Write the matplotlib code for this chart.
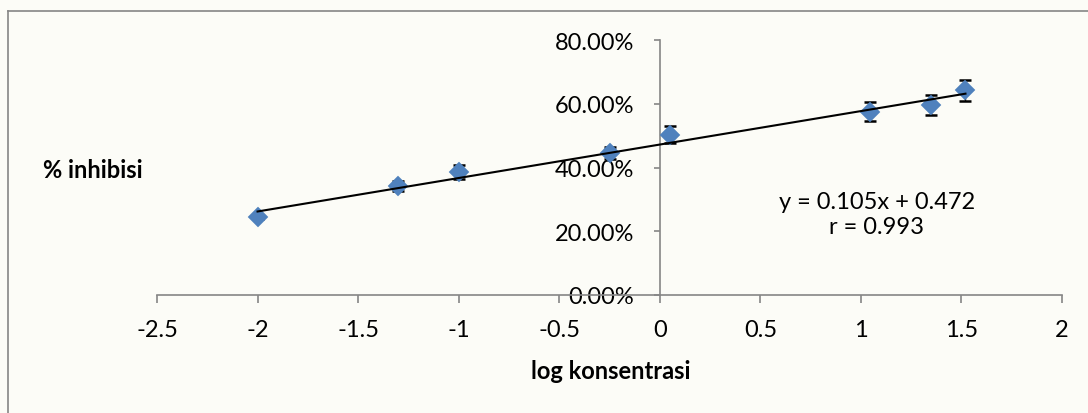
#!/usr/bin/env python
# -*- coding: utf-8 -*-

"""
Percent inhibition versus log concentration with a linear trendline.
"""

# Third party modules.
import matplotlib
matplotlib.use("Agg")
import matplotlib.pyplot as plt
from matplotlib.lines import Line2D
from matplotlib.ticker import FuncFormatter, MultipleLocator

# Globals and constants variables.
logConcentrations = [-2.0, -1.30, -1.0, -0.25, 0.05, 1.045, 1.35, 1.52]
inhibitions = [0.244, 0.342, 0.386, 0.445, 0.503, 0.575, 0.597, 0.643]
inhibitionErrors = [0.005, 0.015, 0.021, 0.019, 0.027, 0.030, 0.031, 0.033]

slope = 0.105
intercept = 0.472
correlation = 0.993

xLabel = "log konsentrasi"
yLabel = "% inhibisi"

markerColor = "#4F81BD"
axisColor = "#868686"

plt.rcParams["font.family"] = ["Lato", "DejaVu Sans"]


def runPlot():
    fig = plt.figure(figsize=(10.88, 4.14), dpi=100)
    fig.patch.set_facecolor("#fcfcf7")

    # chart area frame, only its left and top edges fall inside the image
    frameLeft = 7.5 / 1088
    frameTop = 1 - 12 / 414
    fig.lines.append(Line2D([frameLeft, frameLeft], [-0.1, frameTop],
                            transform=fig.transFigure, color=axisColor, linewidth=1.2))
    fig.lines.append(Line2D([frameLeft, 1.1], [frameTop, frameTop],
                            transform=fig.transFigure, color=axisColor, linewidth=1.2))

    ax = fig.add_axes([157 / 1088, 118 / 414, 905 / 1088, 255 / 414])
    ax.patch.set_alpha(0.0)

    # error bars first, markers over them, trendline over both
    ax.errorbar(logConcentrations, inhibitions, yerr=inhibitionErrors,
                fmt="none", ecolor="black", elinewidth=1.0,
                capsize=4.5, capthick=1.8, zorder=2)
    ax.plot(logConcentrations, inhibitions, linestyle="none", marker="D",
            markersize=10.2, markerfacecolor=markerColor,
            markeredgecolor=markerColor, markeredgewidth=0.3, zorder=3)

    xFit = [min(logConcentrations), max(logConcentrations)]
    yFit = [slope * x + intercept for x in xFit]
    ax.plot(xFit, yFit, color="black", linewidth=1.5, zorder=4)

    ax.text(1.08, 0.255, "y = %.3fx + %.3f\nr = %.3f" % (slope, intercept, correlation),
            ha="center", va="center", multialignment="center",
            fontsize=17, linespacing=1.25)

    ax.set_xlim(-2.5, 2.0)
    ax.set_ylim(0.0, 0.8)
    ax.xaxis.set_major_locator(MultipleLocator(0.5))
    ax.yaxis.set_major_locator(MultipleLocator(0.2))
    ax.xaxis.set_major_formatter(FuncFormatter(lambda v, pos: "%g" % v))
    ax.yaxis.set_major_formatter(FuncFormatter(lambda v, pos: "%.2f%%" % (v * 100)))

    ax.spines["top"].set_visible(False)
    ax.spines["right"].set_visible(False)
    ax.spines["left"].set_position(("data", 0.0))
    for side in ("left", "bottom"):
        ax.spines[side].set_color(axisColor)
        ax.spines[side].set_linewidth(1.2)

    ax.tick_params(axis="x", direction="out", length=6, width=1.2,
                   color=axisColor, labelsize=17, pad=11)
    ax.tick_params(axis="y", direction="out", length=4.5, width=1.2,
                   color=axisColor, labelsize=17, pad=14)

    ax.set_xlabel(xLabel, fontsize=17, fontweight="bold")
    ax.xaxis.set_label_coords(0.501, -0.298)
    ax.xaxis.label.set_verticalalignment("center")

    ax.set_ylabel(yLabel, fontsize=17, fontweight="bold", rotation=0,
                  ha="left", va="center")
    ax.yaxis.set_label_coords(-0.126, 0.494)

    fig.savefig("out.png", dpi=100, facecolor=fig.get_facecolor())


if __name__ == '__main__':  # pragma: no cover
    runPlot()
